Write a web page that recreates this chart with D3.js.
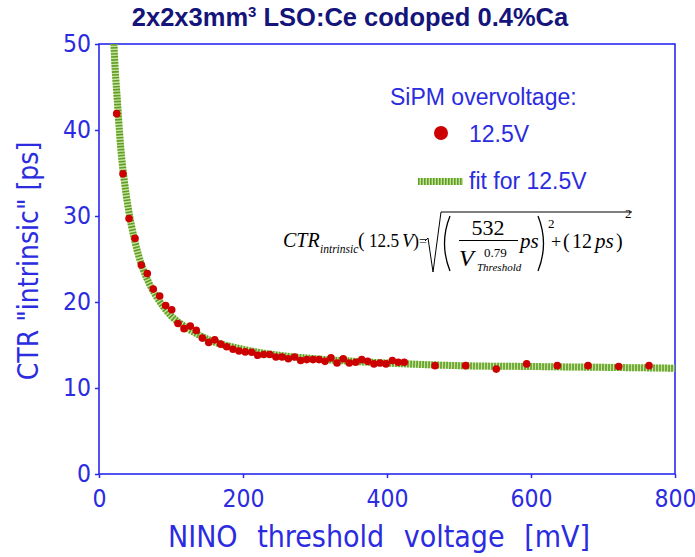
<!DOCTYPE html>
<html>
<head>
<meta charset="utf-8">
<script src="https://cdn.jsdelivr.net/npm/d3@7/dist/d3.min.js"></script>
<style>
body { margin: 0; background: #fff; }
.axisText { font-family: "DejaVu Sans Condensed", "DejaVu Sans", sans-serif; font-stretch: condensed; fill: #2b2be0; }
.legendText { font-family: "Liberation Sans", Arial, sans-serif; fill: #2b2be0; }
.formula { font-family: "Liberation Serif", "Times New Roman", serif; fill: #000; }
</style>
</head>
<body>
<div id="chart"></div>
<script>
// measured points, NINO threshold [mV] vs CTR intrinsic [ps], 12.5V overvoltage
var thresholds = [24.6, 33.3, 41.7, 50.0, 58.8, 67.1, 75.4, 84.3, 92.6, 101.0,
  109.7, 118.1, 126.8, 135.1, 143.5, 152.4, 160.7, 169.0, 177.4, 186.1,
  194.4, 203.2, 212.1, 220.4, 228.8, 237.1, 245.8, 254.2, 262.9, 271.8,
  280.1, 288.5, 297.2, 305.6, 313.9, 322.2, 330.6, 339.3, 347.6, 356.5,
  364.9, 373.2, 381.9, 390.3, 398.6, 407.4, 415.7, 424.0,
  466.7, 509.3, 551.8, 594.0, 636.5, 679.2, 721.8, 763.9];
var ctrValues = [41.9, 34.9, 29.7, 27.4, 24.3, 23.3, 21.5, 20.7, 19.6, 19.1,
  17.5, 16.9, 17.2, 16.7, 15.8, 15.3, 15.6, 15.1, 14.8, 14.5,
  14.3, 14.2, 14.15, 13.8, 13.9, 13.9, 13.6, 13.6, 13.4, 13.6,
  13.2, 13.3, 13.3, 13.3, 13.1, 13.5, 12.9, 13.4, 12.9, 13.0,
  13.3, 13.1, 12.8, 12.9, 12.8, 13.2, 13.0, 13.0,
  12.6, 12.6, 12.2, 12.8, 12.6, 12.6, 12.5, 12.6];

// fit curve
var fitThresholds = [20.7, 22.5, 25, 30, 35, 40, 50, 60, 70, 80, 100, 120, 150, 200, 250, 300, 400, 500, 600, 700, 800];
var fitValues = [50.0, 47.0, 44.0, 38.1, 34.2, 31.25, 27.0, 24.1, 22.1, 20.6, 18.4, 17.1, 15.7, 14.5, 13.8, 13.4, 12.9, 12.6, 12.5, 12.4, 12.3];

var xTicks = [0, 200, 400, 600, 800];
var yTicks = [0, 10, 20, 30, 40, 50];

var margin = {top: 44, right: 20, bottom: 83, left: 99},
    width = 695 - margin.left - margin.right,
    height = 557 - margin.top - margin.bottom;

var axisColor = "#2828ee";

var svg = d3.select("#chart").append("svg")
    .attr("width", 695)
    .attr("height", 557);

var g = svg.append("g")
    .attr("transform", "translate(" + margin.left + "," + margin.top + ")");

var x = d3.scaleLinear().domain([0, 800]).range([0, width]);
var y = d3.scaleLinear().domain([0, 50]).range([height, 0]);

svg.append("defs").append("clipPath").attr("id", "plotClip")
    .append("rect").attr("width", width).attr("height", height);

// title
var title = svg.append("text")
    .attr("x", 350).attr("y", 26)
    .style("text-anchor", "middle")
    .style("font-family", "'Liberation Sans', Arial, sans-serif")
    .style("font-weight", "bold")
    .style("font-size", "25.5px")
    .style("fill", "#14147a");
title.append("tspan").text("2x2x3mm");
title.append("tspan").attr("dy", -9).style("font-size", "15px").text("3");
title.append("tspan").attr("dy", 9).text(" LSO:Ce codoped 0.4%Ca");

// axes
var xAxis = d3.axisBottom(x).tickValues(xTicks).tickSize(4).tickSizeOuter(0).tickPadding(6);
var yAxis = d3.axisLeft(y).tickValues(yTicks).tickSize(4).tickSizeOuter(0).tickPadding(4);

var gx = g.append("g")
    .attr("transform", "translate(0," + height + ")")
    .call(xAxis);
var gy = g.append("g").call(yAxis);

[gx, gy].forEach(function (ax) {
  ax.select(".domain").remove();
  ax.selectAll("line").attr("stroke", axisColor).attr("stroke-width", 1.5);
  ax.selectAll("text")
    .attr("class", "axisText")
    .style("font-size", "24.5px");
});
gx.selectAll("text").attr("dy", "0.95em");

// frame
g.append("rect")
    .attr("width", width).attr("height", height)
    .attr("fill", "none")
    .attr("stroke", axisColor)
    .attr("stroke-width", 1.6);

// axis labels
svg.append("text")
    .attr("class", "axisText")
    .attr("x", 379)
    .attr("y", 547)
    .style("text-anchor", "middle")
    .style("font-size", "30px")
    .style("word-spacing", "11px")
    .text("NINO threshold voltage [mV]");

svg.append("text")
    .attr("class", "axisText")
    .attr("transform", "translate(38," + (margin.top + height / 2 + 2) + ") rotate(-90)")
    .style("text-anchor", "middle")
    .style("font-size", "28px")
    .text("CTR \"intrinsic\" [ps]");

// fit line
var line = d3.line()
    .x(function (d, i) { return x(fitThresholds[i]); })
    .y(function (d) { return y(d); })
    .curve(d3.curveMonotoneX);

var fitG = g.append("g").attr("clip-path", "url(#plotClip)");
fitG.append("path")
    .datum(fitValues)
    .attr("d", line)
    .attr("fill", "none")
    .attr("stroke", "#c4e29e")
    .attr("stroke-width", 7);
fitG.append("path")
    .datum(fitValues)
    .attr("d", line)
    .attr("fill", "none")
    .attr("stroke", "#5f9e22")
    .attr("stroke-width", 7)
    .attr("stroke-dasharray", "1.6,1.4");

// points
g.selectAll(".dot")
    .data(ctrValues)
    .enter().append("circle")
    .attr("class", "dot")
    .attr("cx", function (d, i) { return x(thresholds[i]); })
    .attr("cy", function (d) { return y(d); })
    .attr("r", 3.8)
    .attr("fill", "#cc0000");

// legend
svg.append("text").attr("class", "legendText")
    .attr("x", 390).attr("y", 105)
    .style("font-size", "23px")
    .text("SiPM overvoltage:");
svg.append("circle").attr("cx", 441).attr("cy", 133).attr("r", 7).attr("fill", "#cc0000");
svg.append("text").attr("class", "legendText")
    .attr("x", 469).attr("y", 142)
    .style("font-size", "23px")
    .text("12.5V");
svg.append("line").attr("x1", 418).attr("x2", 463).attr("y1", 181.5).attr("y2", 181.5)
    .attr("stroke", "#c4e29e").attr("stroke-width", 7);
svg.append("line").attr("x1", 418).attr("x2", 463).attr("y1", 181.5).attr("y2", 181.5)
    .attr("stroke", "#5f9e22").attr("stroke-width", 7).attr("stroke-dasharray", "1.6,1.4");
svg.append("text").attr("class", "legendText")
    .attr("x", 469).attr("y", 189)
    .style("font-size", "23px")
    .text("fit for 12.5V");

// formula
var f = svg.append("g").attr("class", "formula");
function ftext(tx, ty, size, str, italic) {
  return f.append("text").attr("x", tx).attr("y", ty)
    .style("font-size", size + "px")
    .style("font-style", italic ? "italic" : "normal")
    .text(str);
}
ftext(283, 247, 20, "CTR", true);
ftext(320, 253, 11.5, "intrinsic", true);
ftext(358, 247, 20, "(", false);
ftext(369, 247, 19.5, "12.5", false)
    .attr("textLength", 30).attr("lengthAdjust", "spacingAndGlyphs");
ftext(402, 247, 19, "V", true);
ftext(413, 247, 18, ")", false);
ftext(419, 246, 14, "=", false);
f.append("path")
    .attr("d", "M425,241 L428,238 L433,272 L441,212 L632,212")
    .attr("fill", "none").attr("stroke", "#000").attr("stroke-width", 1);
f.append("path").attr("d", "M450,216 Q439,243.5 450,271")
    .attr("fill", "none").attr("stroke", "#000").attr("stroke-width", 1.3);
f.append("path").attr("d", "M538,216 Q549,243.5 538,271")
    .attr("fill", "none").attr("stroke", "#000").attr("stroke-width", 1.3);
ftext(488, 235, 22, "532", false).style("text-anchor", "middle");
f.append("line").attr("x1", 459).attr("x2", 518).attr("y1", 240.5).attr("y2", 240.5)
    .attr("stroke", "#000").attr("stroke-width", 1);
ftext(459, 266, 24, "V", true);
ftext(484, 257, 13, "0.79", false);
ftext(477, 271, 11, "Threshold", true);
ftext(520, 248, 21, "ps", true);
ftext(548, 228, 13, "2", false);
ftext(551, 248, 18, "+", false);
ftext(563, 248, 20, "(", false);
ftext(572, 248, 20, "12", false);
ftext(595, 248, 21, "ps", true);
ftext(616, 248, 20, ")", false);
ftext(625, 218, 13, "2", false);
</script>
</body>
</html>
